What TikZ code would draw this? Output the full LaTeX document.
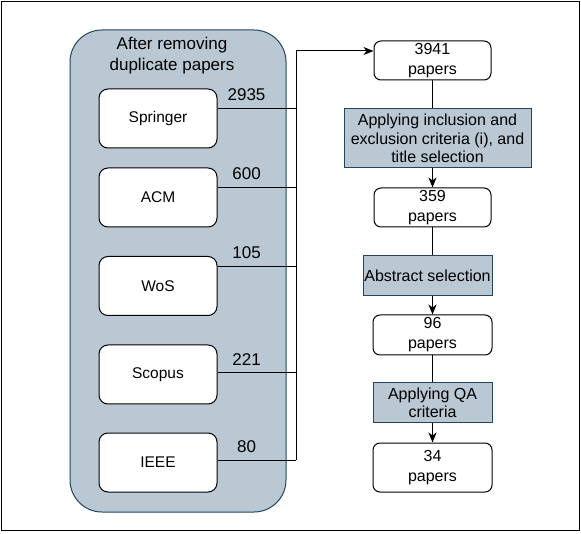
\documentclass[tikz,border=0pt]{standalone}
\usepackage{fontspec}
\setmainfont{Liberation Sans}
\usetikzlibrary{positioning,arrows.meta}

\definecolor{boxfill}{HTML}{BAC8D3}
\definecolor{boxline}{HTML}{23445D}

\begin{document}
\begin{tikzpicture}[x=1pt, y=-1pt, line width=1pt,
  source/.style={draw, rounded corners=9pt, fill=white, minimum width=118pt,
    minimum height=59pt, font=\fontsize{15.5}{18}\selectfont},
  papers/.style={draw, rounded corners=7pt, fill=white, minimum width=117pt,
    minimum height=39pt, inner sep=0pt, align=center, font=\fontsize{16}{20}\selectfont},
  process/.style={draw=boxline, fill=boxfill, minimum height=40pt, inner sep=0pt,
    align=center, font=\fontsize{16}{18.5}\selectfont},
  count/.style={above=4pt, pos=0.37, font=\fontsize{17}{20}\selectfont},
  arr/.style={-{Stealth[length=10pt, width=8pt, inset=3pt]}}]

  \useasboundingbox (0,0) rectangle (581,534);
  \draw[line width=1.3pt] (1.5,1.5) rectangle (579.5,530.5);

  % Container for the databases
  \draw[draw=boxline, fill=boxfill, rounded corners=32pt] (70,30) rectangle (286,512);
  \node[align=center, font=\fontsize{17}{21}\selectfont] (title) at (172,55.5)
    {After removing\\duplicate papers};

  % Nodes for the databases
  \node[source] (db1) at (158,118.5) {Springer};
  \node[source, below=19pt of db1] (db2) {ACM};
  \node[source, below=28.5pt of db2] (db3) {WoS};
  \node[source, below=28.5pt of db3] (db4) {Scopus};
  \node[source, below=28pt of db4] (db5) {IEEE};

  % Nodes for the selection steps
  \node[papers] (p0) at (432.5,60.5) {3941\\papers};
  \node[process, minimum width=187pt, minimum height=59pt, below=28pt of p0, xshift=5pt] (f1)
    {Applying inclusion and\\exclusion criteria (i), and\\title selection};
  \node[papers, below=19pt of f1, xshift=-5pt] (p1) {359\\papers};
  \node[process, minimum width=129pt, below=28pt of p1, xshift=-5pt] (f2) {Abstract selection};
  \node[papers, minimum width=119pt, minimum height=40pt, below=18pt of f2, xshift=5pt] (p2) {96\\papers};
  \node[process, minimum width=119pt, below=27pt of p2] (f3) {Applying QA\\criteria};
  \node[papers, minimum width=119pt, minimum height=49pt, below=19pt of f3] (p3) {34\\papers};

  % Edges from the databases
  \coordinate (bus) at (296,51);
  \draw ([yshift=9.5pt]db1.east) -- node[count] {2935} ([yshift=9.5pt]db1.east -| bus);
  \draw ([yshift=9.5pt]db2.east) -- node[count] {600} ([yshift=9.5pt]db2.east -| bus);
  \draw ([yshift=19pt]db3.east) -- node[count] {105} ([yshift=19pt]db3.east -| bus);
  \draw ([yshift=1.5pt]db4.east) -- node[count] {221} ([yshift=1.5pt]db4.east -| bus);
  \draw ([yshift=2.5pt]db5.east) -- node[count] {80} ([yshift=2.5pt]db5.east -| bus);
  \draw[arr] ([yshift=2.5pt]db5.east -| bus) -- (bus) -- ([yshift=9.5pt]p0.west);

  % Edges between the steps
  \draw (p0.south) -- (p0.south |- f1.north);
  \draw[arr] (p1.north |- f1.south) -- (p1.north);
  \draw (p1.south) -- (p1.south |- f2.north);
  \draw[arr] (p2.north |- f2.south) -- (p2.north);
  \draw (p2.south) -- (f3.north);
  \draw[arr] (f3.south) -- (p3.north);

\end{tikzpicture}
\end{document}
